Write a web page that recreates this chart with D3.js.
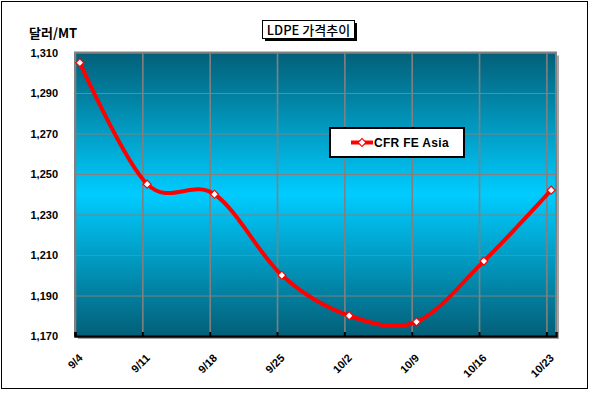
<!DOCTYPE html>
<html>
<head>
<meta charset="utf-8">
<script src="https://cdn.jsdelivr.net/npm/d3@7"></script>
<style>
  body { margin: 0; background: #fff; }
  svg { display: block; font-family: Arial, "Liberation Sans", sans-serif; }
  .tick text { font-weight: bold; font-size: 11px; fill: #000; }
  .kr { font-family: "Noto Sans CJK KR", "Liberation Sans", sans-serif; }
</style>
</head>
<body>
<script>
// data
const dateLabels = ['9/4', '9/11', '9/18', '9/25', '10/2', '10/9', '10/16', '10/23'];
const prices = [1305, 1245, 1240, 1200, 1180, 1177, 1207, 1242];
const yTicks = [1170, 1190, 1210, 1230, 1250, 1270, 1290, 1310];
const seriesName = 'CFR FE Asia';

const W = 589, H = 393;
const plot = {left: 75, top: 52.5, right: 556, bottom: 336};

const parse = s => d3.utcParse('%Y/%m/%d')('2008/' + s);
const dates = dateLabels.map(parse);
const data = dates.map((d, i) => ({date: d, value: prices[i]}));

let svg = d3.select('body').append('svg')
    .attr('width', W)
    .attr('height', H);

// outer chart border
svg.append('rect')
    .attr('x', 1.5).attr('y', 1.5)
    .attr('width', W - 3).attr('height', 387)
    .attr('fill', '#fff')
    .attr('stroke', '#000')
    .attr('stroke-width', 1);

// scales: date axis with one slot per day, points in the middle of the day
const x = d3.scaleUtc()
    .domain([dates[0], d3.utcDay.offset(dates[dates.length - 1], 1)])
    .range([plot.left, plot.right]);

const y = d3.scaleLinear()
    .domain([1170, 1310])
    .range([plot.bottom, plot.top]);

const mid = d => d3.utcHour.offset(d, 12);

// gradient fill for plot area
let grad = svg.append('defs').append('linearGradient')
    .attr('id', 'bg')
    .attr('x1', 0).attr('y1', 0).attr('x2', 0).attr('y2', 1);
grad.append('stop').attr('offset', '0%').attr('stop-color', '#035f78');
grad.append('stop').attr('offset', '50%').attr('stop-color', '#00ccff');
grad.append('stop').attr('offset', '100%').attr('stop-color', '#035f78');

// shadow of plot area
svg.append('rect')
    .attr('x', plot.left + 3).attr('y', plot.top + 3)
    .attr('width', plot.right - plot.left).attr('height', plot.bottom - plot.top)
    .attr('fill', '#a6a6a6');

svg.append('rect')
    .attr('x', plot.left).attr('y', plot.top)
    .attr('width', plot.right - plot.left).attr('height', plot.bottom - plot.top)
    .attr('fill', 'url(#bg)');

// horizontal gridlines
svg.append('g')
    .attr('class', 'grid')
    .attr('transform', `translate(${plot.left},0)`)
    .call(d3.axisLeft(y).tickValues(yTicks).tickSize(-(plot.right - plot.left)).tickFormat(''))
    .call(g => g.select('.domain').remove())
    .call(g => g.selectAll('line').attr('stroke', '#808080').attr('stroke-width', 1.2));

// vertical gridlines
svg.append('g')
    .attr('class', 'grid')
    .attr('transform', `translate(0,${plot.bottom})`)
    .call(d3.axisBottom(x).tickValues(dates).tickSize(-(plot.bottom - plot.top)).tickFormat(''))
    .call(g => g.select('.domain').remove())
    .call(g => g.selectAll('line').attr('stroke', '#808080').attr('stroke-width', 1.6));

// plot border
svg.append('rect')
    .attr('x', plot.left).attr('y', plot.top)
    .attr('width', plot.right - plot.left).attr('height', plot.bottom - plot.top)
    .attr('fill', 'none')
    .attr('stroke', '#808080')
    .attr('stroke-width', 2);

// y axis labels
svg.append('g')
    .attr('class', 'y axis')
    .attr('transform', `translate(${plot.left},0)`)
    .call(d3.axisLeft(y).tickValues(yTicks).tickFormat(d3.format(',')).tickSize(0).tickPadding(17))
    .call(g => g.select('.domain').remove());

// x axis with inside ticks
let xAxis = svg.append('g')
    .attr('class', 'x axis')
    .attr('transform', `translate(0,${plot.bottom})`)
    .call(d3.axisBottom(x).tickValues(dates).tickSize(-4).tickFormat((d, i) => dateLabels[i]))
    .call(g => g.select('.domain').attr('stroke', '#000').attr('stroke-width', 2.5));

xAxis.selectAll('.tick line').attr('stroke', '#000').attr('stroke-width', 2);
xAxis.selectAll('.tick text')
    .attr('text-anchor', 'end')
    .attr('transform', 'translate(5,20) rotate(-45)')
    .attr('x', 0).attr('y', 0).attr('dy', '0.35em');

// line
const line = d3.line()
    .x(d => x(mid(d.date)))
    .y(d => y(d.value))
    .curve(d3.curveCardinal.tension(0));

svg.append('path')
    .datum(data)
    .attr('d', line)
    .attr('fill', 'none')
    .attr('stroke', '#ff0000')
    .attr('stroke-width', 4)
    .attr('stroke-linejoin', 'round');

// square diamond marker (rotated square)
const marker = d3.symbol().type(d3.symbolSquare).size(32);

svg.selectAll('.pt')
    .data(data)
    .join('path')
      .attr('class', 'pt')
      .attr('d', marker)
      .attr('transform', d => `translate(${x(mid(d.date))},${y(d.value)}) rotate(45)`)
      .attr('fill', '#fff')
      .attr('stroke', '#ff0000')
      .attr('stroke-width', 1.2);

// y label
svg.append('text')
    .attr('class', 'kr')
    .attr('x', 29).attr('y', 38)
    .style('font-size', '13px')
    .style('font-weight', 'bold')
    .text('달러/MT');

// title box with shadow
svg.append('rect')
    .attr('x', 265).attr('y', 23)
    .attr('width', 92).attr('height', 18)
    .attr('fill', '#000');
svg.append('rect')
    .attr('x', 262.5).attr('y', 20.5)
    .attr('width', 92).attr('height', 18)
    .attr('fill', '#fff')
    .attr('stroke', '#000')
    .attr('stroke-width', 1);
svg.append('text')
    .attr('class', 'kr')
    .attr('x', 308.5).attr('y', 34.5)
    .attr('text-anchor', 'middle')
    .style('font-size', '13px')
    .style('font-weight', 500)
    .text('LDPE 가격추이');

// legend
let legend = svg.append('g');
legend.append('rect')
    .attr('x', 330).attr('y', 128)
    .attr('width', 134).attr('height', 29)
    .attr('fill', '#fff')
    .attr('stroke', '#000')
    .attr('stroke-width', 2);
legend.append('line')
    .attr('x1', 351).attr('x2', 373)
    .attr('y1', 142.5).attr('y2', 142.5)
    .attr('stroke', '#ff0000')
    .attr('stroke-width', 4);
legend.append('path')
    .attr('d', marker)
    .attr('transform', 'translate(362,142.5) rotate(45)')
    .attr('fill', '#fff')
    .attr('stroke', '#ff0000')
    .attr('stroke-width', 1.2);
legend.append('text')
    .attr('x', 374).attr('y', 147)
    .style('font-size', '12px')
    .style('font-weight', 'bold')
    .style('letter-spacing', '0.3px')
    .text(seriesName);
</script>
</body>
</html>
